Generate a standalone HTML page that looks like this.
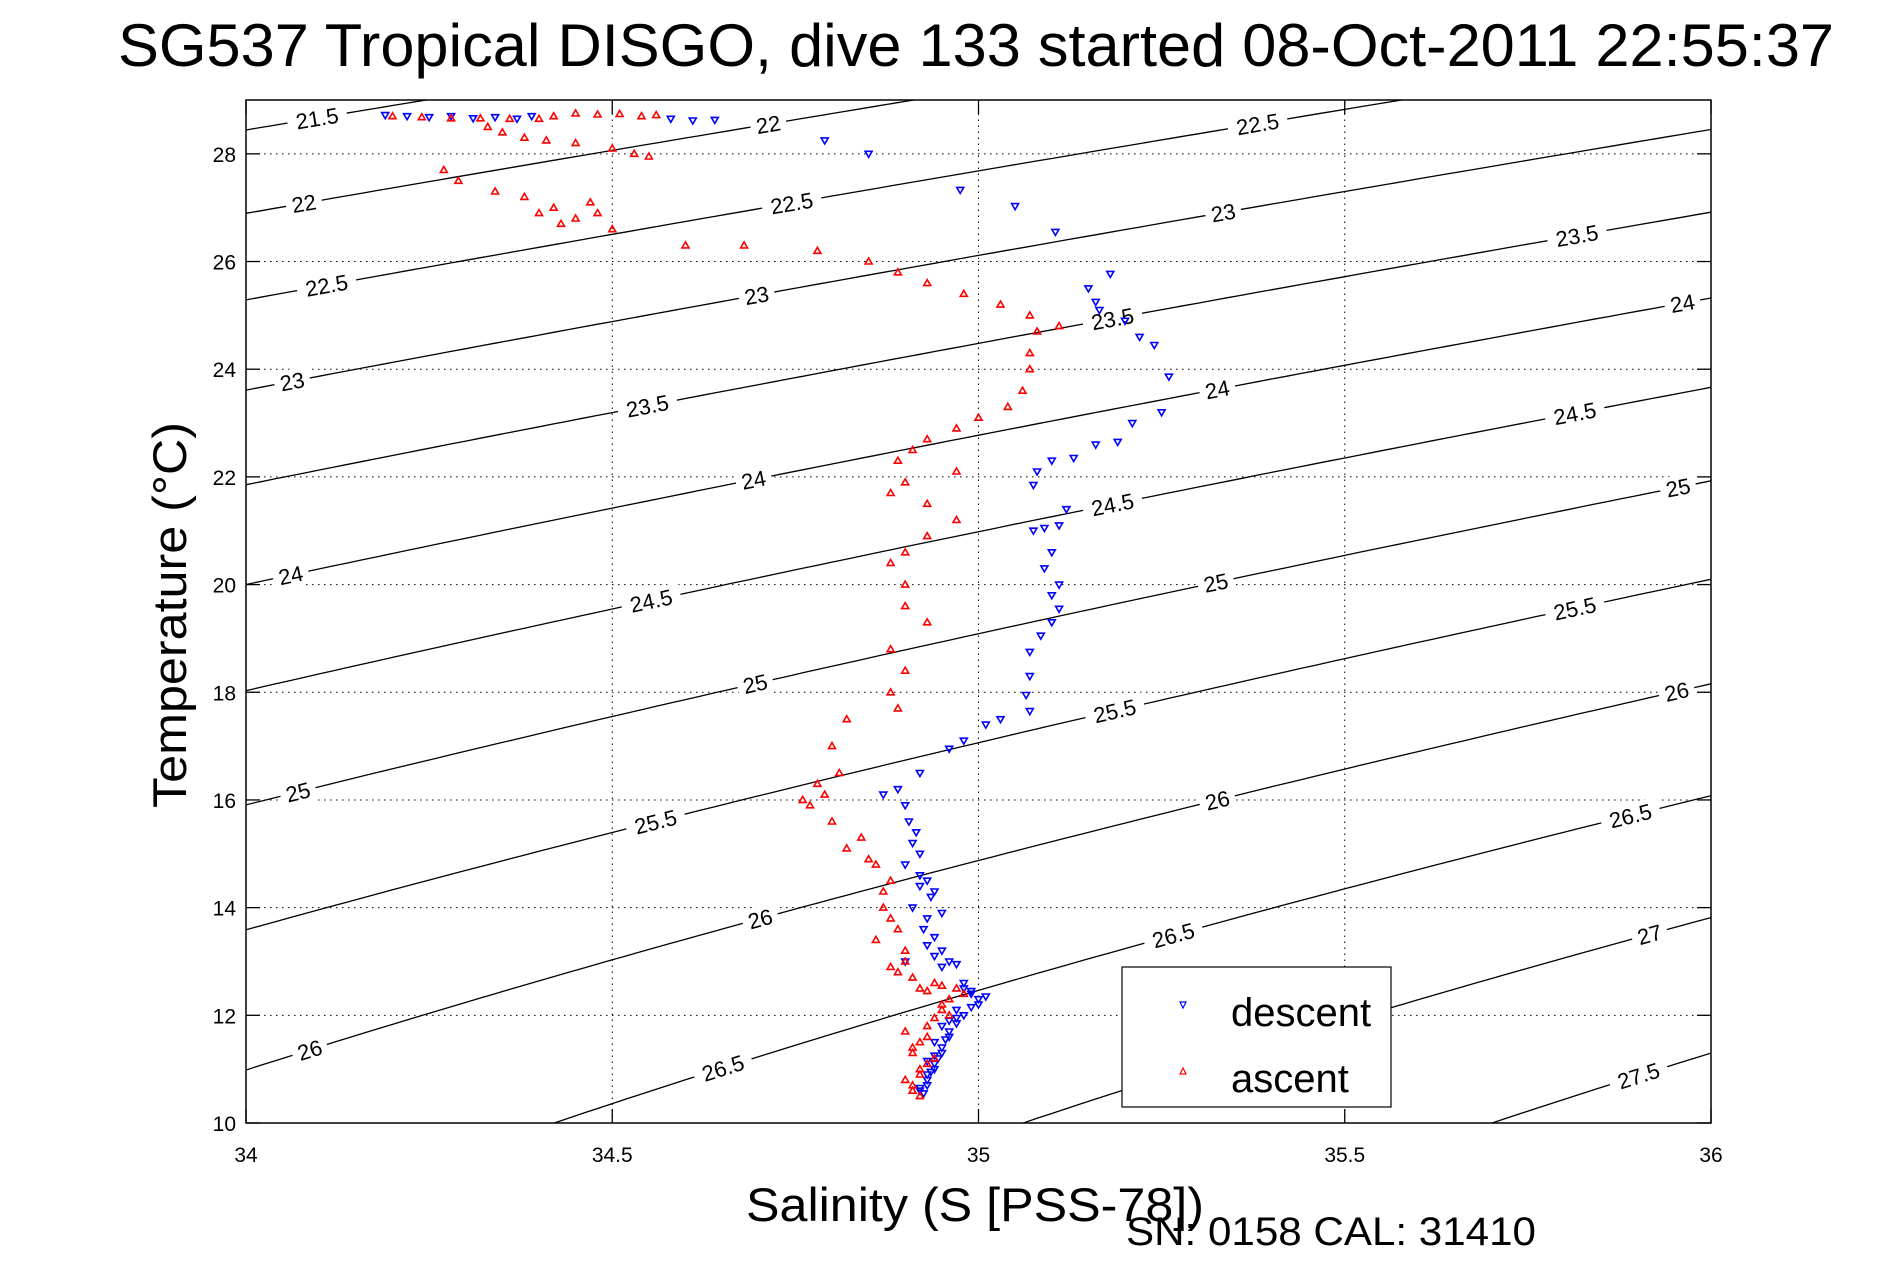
<!DOCTYPE html>
<html><head><meta charset="utf-8"><style>
html,body{margin:0;padding:0;background:#fff;width:1891px;height:1262px;overflow:hidden;}
svg{display:block;font-family:"Liberation Sans",sans-serif;}
</style></head><body>
<svg id="chart" width="1891" height="1262" viewBox="0 0 1891 1262">
<defs><clipPath id="plotclip"><rect x="246" y="100" width="1465" height="1023"/></clipPath></defs>
<rect x="0" y="0" width="1891" height="1262" fill="#fff"/>
<text x="976" y="66" font-size="60" text-anchor="middle" textLength="1716" lengthAdjust="spacingAndGlyphs">SG537 Tropical DISGO, dive 133 started 08-Oct-2011 22:55:37</text>
<g id="grid"></g>
<g id="contours" clip-path="url(#plotclip)"></g>
<g id="clabels"></g>
<g id="descent" clip-path="url(#plotclip)"></g>
<g id="ascent" clip-path="url(#plotclip)"></g>
<rect x="246" y="100" width="1465" height="1023" fill="none" stroke="#000" stroke-width="1.5"/>
<g id="ticks"></g>
<text x="975" y="1221" font-size="47" text-anchor="middle" textLength="458" lengthAdjust="spacingAndGlyphs">Salinity (S [PSS-78])</text>
<text x="0" y="0" font-size="47" text-anchor="middle" transform="translate(186,615) rotate(-90)" textLength="386" lengthAdjust="spacingAndGlyphs">Temperature (°C)</text>
<text x="1126" y="1245" font-size="40" textLength="410" lengthAdjust="spacingAndGlyphs">SN: 0158  CAL: 31410</text>
<g>
<rect x="1122" y="967" width="269" height="140" fill="#fff" stroke="#000" stroke-width="1.2"/>
<path d="M1180,1002 l6,0 l-3,6 z" fill="none" stroke="#00f" stroke-width="1.2"/>
<text x="1231" y="1026" font-size="40">descent</text>
<path d="M1180,1074 l6,0 l-3,-6 z" fill="none" stroke="#f00" stroke-width="1.2"/>
<text x="1231" y="1092" font-size="40">ascent</text>
</g>
</svg>
<script>
const xTicks = [34, 34.5, 35, 35.5, 36];
const xTickLabels = ["34", "34.5", "35", "35.5", "36"];
const yTicks = [10, 12, 14, 16, 18, 20, 22, 24, 26, 28];
const yTickLabels = ["10", "12", "14", "16", "18", "20", "22", "24", "26", "28"];
const sigmaLevels = [21.5, 22, 22.5, 23, 23.5, 24, 24.5, 25, 25.5, 26, 26.5, 27, 27.5];
const labelSigma = [21.5,22,22,22.5,22.5,22.5,23,23,23,23.5,23.5,23.5,24,24,24,24,24.5,24.5,24.5,25,25,25,25,25.5,25.5,25.5,26,26,26,26,26.5,26.5,26.5,27,27.5];
const labelSal = [34.097,34.713,34.079,35.381,34.745,34.110,35.334,34.697,34.063,35.817,35.183,34.548,35.961,35.326,34.693,34.061,35.814,35.183,34.553,35.955,35.324,34.695,34.071,35.814,35.186,34.559,35.953,35.326,34.702,34.087,35.890,35.266,34.651,35.916,35.901];
const descentS = [34.19,34.22,34.25,34.28,34.31,34.34,34.37,34.39,34.58,34.61,34.64,34.79,34.85,34.975,35.05,35.105,35.18,35.15,35.16,35.165,35.2,35.22,35.24,35.26,35.25,35.21,35.19,35.16,35.13,35.10,35.08,35.075,35.12,35.11,35.09,35.075,35.1,35.09,35.11,35.1,35.11,35.1,35.085,35.07,35.07,35.065,35.07,35.03,35.01,34.98,34.96,34.92,34.89,34.87,34.9,34.905,34.91,34.9,34.92,34.92,34.91,34.93,34.925,34.93,34.9,34.94,34.95,34.98,34.99,35.0,34.97,34.96,34.96,34.95,34.945,34.94,34.93,34.92,
 34.915,34.92,34.93,34.94,34.935,34.95,34.94,34.95,34.96,34.97,34.98,34.99,35.01,35.0,34.99,34.98,34.97,34.97,34.96,34.955,34.95,34.94,34.935,34.93,34.925,34.92,34.93,34.94,34.93,34.95,34.94];
const descentT = [28.72,28.7,28.68,28.7,28.66,28.68,28.65,28.7,28.65,28.62,28.63,28.25,28.0,27.33,27.03,26.55,25.77,25.5,25.25,25.1,24.9,24.6,24.45,23.86,23.2,23.0,22.65,22.6,22.35,22.3,22.1,21.85,21.4,21.1,21.05,21.0,20.6,20.3,20.0,19.8,19.55,19.3,19.05,18.75,18.3,17.95,17.65,17.5,17.4,17.1,16.95,16.5,16.2,16.1,15.9,15.6,15.2,14.8,14.6,14.4,14.0,13.8,13.6,13.3,13.0,13.1,12.9,12.5,12.4,12.3,12.1,11.9,11.7,11.4,11.2,11.1,10.8,10.6,
 15.4,15.0,14.5,14.3,14.2,13.9,13.45,13.2,13.0,12.95,12.6,12.45,12.35,12.2,12.15,12.0,11.85,11.95,11.6,11.55,11.3,11.0,10.95,10.7,10.55,10.65,10.9,11.25,11.15,11.8,11.5];
const ascentS = [34.2,34.24,34.28,34.32,34.36,34.4,34.42,34.45,34.48,34.51,34.54,34.56,34.33,34.35,34.38,34.41,34.45,34.5,34.53,34.55,34.27,34.29,34.34,34.38,34.4,34.42,34.45,34.48,34.5,34.43,34.47,34.6,34.68,34.78,34.85,34.89,34.93,34.98,35.03,35.07,35.11,35.08,35.07,35.07,35.06,35.04,35.0,34.97,34.93,34.91,34.89,34.97,34.9,34.88,34.93,34.97,34.93,34.9,34.88,34.9,34.9,34.93,34.88,34.9,34.88,34.89,34.82,34.8,34.81,34.76,34.8,34.84,34.86,34.88,34.87,34.89,34.9,34.88,34.94,34.98,34.95,34.93,34.91,34.92,34.91,
 34.78,34.79,34.77,34.82,34.85,34.87,34.88,34.86,34.89,34.91,34.9,34.92,34.93,34.96,34.97,34.95,34.94,34.96,34.93,34.92,34.94,34.91,34.92,34.9,34.91,34.93,34.92,34.9,34.95];
const ascentT = [28.7,28.68,28.66,28.66,28.65,28.65,28.7,28.75,28.73,28.74,28.7,28.72,28.5,28.4,28.3,28.25,28.2,28.1,28.0,27.95,27.7,27.5,27.3,27.2,26.9,27.0,26.8,26.9,26.6,26.7,27.1,26.3,26.3,26.2,26.0,25.8,25.6,25.4,25.2,25.0,24.8,24.7,24.3,24.0,23.6,23.3,23.1,22.9,22.7,22.5,22.3,22.1,21.9,21.7,21.5,21.2,20.9,20.6,20.4,20.0,19.6,19.3,18.8,18.4,18.0,17.7,17.5,17.0,16.5,16.0,15.6,15.3,14.8,14.5,14.0,13.6,13.2,12.9,12.6,12.4,12.2,11.8,11.4,11.0,10.6,
 16.3,16.1,15.9,15.1,14.9,14.3,13.8,13.4,12.8,12.7,13.0,12.5,12.45,12.3,12.5,12.1,11.95,12.0,11.6,11.5,11.2,11.3,10.9,10.8,10.7,11.1,10.5,11.7,12.55];

const X0=246, X1=1711, Y0=1123, Y1=100, SMIN=34, SMAX=36, TMIN=10, TMAX=29;
const NS='http://www.w3.org/2000/svg';
function xs(s){return X0+(s-SMIN)/(SMAX-SMIN)*(X1-X0);}
function ys(t){return Y0-(t-TMIN)/(TMAX-TMIN)*(Y0-Y1);}
function sigma(S,T){
  const rw=999.842594+6.793952e-2*T-9.095290e-3*T*T+1.001685e-4*T**3-1.120083e-6*T**4+6.536332e-9*T**5;
  const A=8.24493e-1-4.0899e-3*T+7.6438e-5*T*T-8.2467e-7*T**3+5.3875e-9*T**4;
  const B=-5.72466e-3+1.0227e-4*T-1.6546e-6*T*T;
  return rw+A*S+B*Math.pow(S,1.5)+4.8314e-4*S*S-1000;
}
function solveT(sig,S){let lo=-2,hi=40;for(let i=0;i<50;i++){const m=(lo+hi)/2;if(sigma(S,m)>sig)lo=m;else hi=m;}return (lo+hi)/2;}
function mk(tag,attrs,parent){const e=document.createElementNS(NS,tag);for(const k in attrs)e.setAttribute(k,attrs[k]);parent.appendChild(e);return e;}

const grid=document.getElementById('grid');
xTicks.forEach((v,i)=>{ if(i>0&&i<xTicks.length-1){
  const l=mk('line',{x1:xs(v),x2:xs(v),y1:Y0,y2:Y1,stroke:'#000','stroke-width':1,'stroke-dasharray':'1.5,4.5'},grid);
  
  }});
yTicks.forEach((v,i)=>{ if(i>0){
  const l=mk('line',{x1:X0,x2:X1,y1:ys(v),y2:ys(v),stroke:'#000','stroke-width':1,'stroke-dasharray':'1.5,4.5'},grid);
  
  }});

const cg=document.getElementById('contours');
sigmaLevels.forEach(sig=>{
  let d='';
  for(let s=33.5;s<=36.5;s+=0.02){const t=solveT(sig,s);d+=(d?'L':'M')+xs(s).toFixed(1)+','+ys(t).toFixed(1);}
  const p=mk('path',{d:d,fill:'none',stroke:'#000','stroke-width':1.3},cg);
  
  
});
const lg=document.getElementById('clabels');
labelSigma.forEach((sig,i)=>{
  const s=labelSal[i];const t=solveT(sig,s);
  const xa=xs(s-0.02),ya=ys(solveT(sig,s-0.02)),xb=xs(s+0.02),yb=ys(solveT(sig,s+0.02));
  const ang=Math.atan2(yb-ya,xb-xa)*180/Math.PI;
  const g=mk('g',{transform:`translate(${xs(s).toFixed(1)},${ys(t).toFixed(1)}) rotate(${ang.toFixed(2)})`},lg);
  
  
  const w=String(sig).length*12+12;
  mk('rect',{x:-w/2,y:-12,width:w,height:24,fill:'#fff'},g);
  const tx=mk('text',{x:0,y:8,'font-size':22,'text-anchor':'middle'},g);
  tx.textContent=String(sig);
});

function markers(id,S,T,color,down){
  const g=document.getElementById(id);
  S.forEach((s,i)=>{
    const x=xs(s),y=ys(T[i]);
    const d=down?`M${(x-3.5).toFixed(1)},${(y-2.5).toFixed(1)}h7l-3.5,6z`:`M${(x-3.5).toFixed(1)},${(y+2.5).toFixed(1)}h7l-3.5,-6z`;
    const p=mk('path',{d:d,fill:'none',stroke:color,'stroke-width':1.6},g);
    
    
  });
}
markers('descent',descentS,descentT,'#00f',true);
markers('ascent',ascentS,ascentT,'#f00',false);

const tg=document.getElementById('ticks');
xTicks.forEach((v,i)=>{
  mk('line',{x1:xs(v),x2:xs(v),y1:Y0,y2:Y0-14,stroke:'#000','stroke-width':1.3},tg);
  mk('line',{x1:xs(v),x2:xs(v),y1:Y1,y2:Y1+14,stroke:'#000','stroke-width':1.3},tg);
  const t=mk('text',{x:xs(v),y:1162,'font-size':21,'text-anchor':'middle'},tg);
  
  
  t.textContent=xTickLabels[i];
});
yTicks.forEach((v,i)=>{
  mk('line',{x1:X0,x2:X0+14,y1:ys(v),y2:ys(v),stroke:'#000','stroke-width':1.3},tg);
  mk('line',{x1:X1,x2:X1-14,y1:ys(v),y2:ys(v),stroke:'#000','stroke-width':1.3},tg);
  const t=mk('text',{x:236,y:ys(v)+8,'font-size':21,'text-anchor':'end'},tg);
  
  
  t.textContent=yTickLabels[i];
});
</script>
</body></html>
